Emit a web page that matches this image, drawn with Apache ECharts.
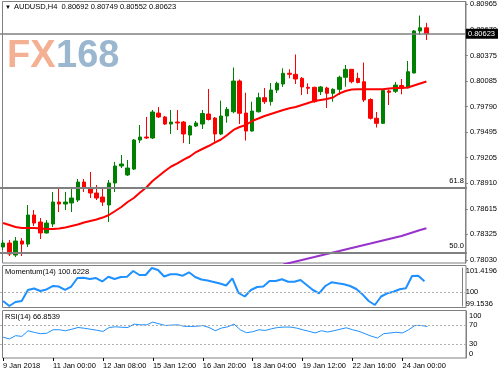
<!DOCTYPE html>
<html><head><meta charset="utf-8">
<script src="https://cdn.jsdelivr.net/npm/echarts@6/dist/echarts.min.js"></script>
<style>html,body{margin:0;padding:0;background:#fff}#c{width:500px;height:375px}</style>
</head><body><div id="c"></div>
<script>
const symbolName = 'AUDUSD,H4';
const firstLabel = '9 Jan 2018';
const categories = [
'9 Jan 16:00','9 Jan 20:00','10 Jan 00:00','10 Jan 04:00','10 Jan 08:00','10 Jan 12:00','10 Jan 16:00','10 Jan 20:00',
'11 Jan 00:00','11 Jan 04:00','11 Jan 08:00','11 Jan 12:00','11 Jan 16:00','11 Jan 20:00','12 Jan 00:00','12 Jan 04:00',
'12 Jan 08:00','12 Jan 12:00','12 Jan 16:00','12 Jan 20:00','14 Jan 20:00','15 Jan 00:00','15 Jan 04:00','15 Jan 08:00',
'15 Jan 12:00','15 Jan 16:00','15 Jan 20:00','16 Jan 00:00','16 Jan 04:00','16 Jan 08:00','16 Jan 12:00','16 Jan 16:00',
'16 Jan 20:00','17 Jan 00:00','17 Jan 04:00','17 Jan 08:00','17 Jan 12:00','17 Jan 16:00','17 Jan 20:00','18 Jan 00:00',
'18 Jan 04:00','18 Jan 08:00','18 Jan 12:00','18 Jan 16:00','18 Jan 20:00','19 Jan 00:00','19 Jan 04:00','19 Jan 08:00',
'19 Jan 12:00','19 Jan 16:00','19 Jan 20:00','21 Jan 20:00','22 Jan 00:00','22 Jan 04:00','22 Jan 08:00','22 Jan 12:00',
'22 Jan 16:00','22 Jan 20:00','23 Jan 00:00','23 Jan 04:00','23 Jan 08:00','23 Jan 12:00','23 Jan 16:00','23 Jan 20:00',
'24 Jan 00:00','24 Jan 04:00','24 Jan 08:00','24 Jan 12:00','24 Jan 16:00'];

const opens = [0.78179,0.78225,0.78087,0.78248,0.78213,0.78546,0.78466,0.78340,0.78443,0.78695,
0.78672,0.78684,0.78718,0.78924,0.78856,0.78798,0.78752,0.78661,0.78913,0.79108,
0.79005,0.79073,0.79406,0.79440,0.79429,0.79715,0.79670,0.79589,0.79612,0.79612,
0.79463,0.79566,0.79589,0.79704,0.79658,0.79475,0.79681,0.79730,0.80082,0.79715,
0.79509,0.79730,0.79891,0.79847,0.79979,0.80048,0.80171,0.80159,0.80113,0.80010,
0.80010,0.79960,0.80002,0.79941,0.79987,0.80125,0.80216,0.80113,0.80074,0.79870,
0.79655,0.79597,0.79968,0.79964,0.80031,0.80005,0.80174,0.80656,0.80692];
const highs = [0.78259,0.78259,0.78294,0.78282,0.78661,0.78603,0.78512,0.78489,0.78810,0.78856,
0.78810,0.78844,0.78959,0.78959,0.79039,0.78890,0.78867,0.78947,0.79154,0.79234,
0.79177,0.79417,0.79578,0.79670,0.79750,0.79784,0.79681,0.79750,0.79750,0.79624,
0.79578,0.79624,0.79750,0.79991,0.79670,0.79857,0.79784,0.80237,0.80100,0.79948,
0.79845,0.79948,0.80002,0.80059,0.80074,0.80228,0.80216,0.80386,0.80128,0.80056,
0.80017,0.80025,0.80017,0.79999,0.80143,0.80266,0.80220,0.80178,0.80294,0.79884,
0.79727,0.79987,0.79985,0.80071,0.80105,0.80312,0.80667,0.80833,0.80749];
const lows = [0.78145,0.78076,0.78064,0.78076,0.78179,0.78420,0.78271,0.78334,0.78408,0.78580,
0.78603,0.78580,0.78695,0.78810,0.78741,0.78718,0.78649,0.78466,0.78810,0.79085,
0.78993,0.79062,0.79372,0.79417,0.79417,0.79658,0.79578,0.79475,0.79520,0.79372,
0.79360,0.79555,0.79532,0.79630,0.79386,0.79463,0.79604,0.79712,0.79589,0.79400,
0.79501,0.79721,0.79819,0.79801,0.79945,0.80014,0.80113,0.80048,0.79922,0.79933,
0.79834,0.79922,0.79773,0.79845,0.79922,0.80017,0.80056,0.80056,0.79842,0.79641,
0.79549,0.79589,0.79807,0.79945,0.79930,0.79999,0.80171,0.80610,0.80552];
const closes = [0.78225,0.78099,0.78248,0.78213,0.78546,0.78454,0.78340,0.78454,0.78695,0.78672,
0.78695,0.78741,0.78924,0.78856,0.78798,0.78741,0.78695,0.78913,0.79108,0.79131,
0.79085,0.79406,0.79440,0.79429,0.79727,0.79670,0.79589,0.79612,0.79601,0.79475,
0.79566,0.79601,0.79710,0.79641,0.79475,0.79681,0.79758,0.80082,0.79712,0.79509,
0.79738,0.79891,0.79845,0.79979,0.80056,0.80171,0.80159,0.80105,0.80014,0.79999,
0.79845,0.80014,0.79941,0.79987,0.80125,0.80216,0.80074,0.80065,0.79865,0.79655,
0.79597,0.79973,0.79953,0.80036,0.79996,0.80189,0.80656,0.80692,0.80623];

const maRed = [0.78454,0.78431,0.78408,0.78397,0.78397,0.78397,0.78391,0.78385,0.78385,0.78391,
0.78403,0.78420,0.78437,0.78460,0.78477,0.78494,0.78517,0.78546,0.78592,0.78638,
0.78695,0.78741,0.78804,0.78861,0.78936,0.78993,0.79051,0.79102,0.79137,0.79182,
0.79217,0.79268,0.79303,0.79337,0.79377,0.79412,0.79463,0.79521,0.79555,0.79578,
0.79624,0.79652,0.79681,0.79704,0.79727,0.79750,0.79769,0.79784,0.79807,0.79830,
0.79853,0.79865,0.79876,0.79893,0.79939,0.79968,0.79985,0.79987,0.79987,0.79987,
0.79987,0.79987,0.79996,0.80002,0.80002,0.80008,0.80031,0.80054,0.80077];

const maPurpleStart = 45;
const maPurple = [0.77978,0.77996,0.78013,0.78030,0.78047,0.78064,0.78082,0.78099,0.78116,0.78133,
0.78151,0.78168,0.78185,0.78202,0.78219,0.78237,0.78254,0.78271,0.78288,0.78305,
0.78328,0.78351,0.78374,0.78394];

const momentum = [99.452,99.1536,99.392,99.452,100.108,100.197,100.048,100.138,100.346,100.316,
100.108,100.316,100.823,100.841,100.764,100.823,100.615,100.901,100.764,100.883,
100.901,101.241,101.002,101.002,101.4196,101.300,100.913,101.044,101.044,100.960,
101.163,100.883,100.734,100.674,100.585,100.495,100.376,100.805,99.929,99.720,
100.108,100.287,100.316,100.645,100.645,100.746,100.603,100.603,100.704,100.406,
100.108,99.911,100.346,100.567,100.507,100.448,100.346,100.167,99.851,99.452,
99.213,99.720,99.911,100.006,100.150,100.209,100.942,100.960,100.6228];

const rsi = [44.3,40.5,47.5,46.0,58.0,54.4,51.7,52.7,60.1,60.1,
58.0,61.2,64.9,63.3,61.2,59.1,56.5,64.9,66.4,65.4,
64.9,72.1,70.6,70.6,76.3,72.7,69.2,70.0,70.6,67.5,
67.1,67.5,69.0,64.9,58.0,63.7,66.4,72.1,60.1,53.8,
55.9,60.1,58.6,62.2,64.9,65.8,65.8,63.7,60.1,56.9,
53.2,58.0,55.3,58.0,61.2,64.3,60.1,56.9,51.7,46.4,
42.6,51.7,53.2,54.8,53.2,60.1,69.2,69.2,66.8539];

const priceTicks = [0.80965,0.80670,0.80375,0.80085,0.79790,0.79495,0.79205,0.78910,0.78615,0.78325,0.78030];
const priceMin = 0.77996, priceMax = 0.80988;
const momTicks = [99.1536, 100, 101.4196];
const momLevel = 100;
const rsiTicks = [0, 30, 70, 100];
const rsiLevels = [70, 30];
const fibLevels = [{name:'61.8', value:0.78860},{name:'50.0', value:0.78115}];
const labelStep = 8;
const padSlots = 6;

const FONT = '"Liberation Sans", Arial, sans-serif';
const N = categories.length;
const xCats = categories.concat(Array.from({length: padSlots}, (_, i) => '_pad' + i));
const showIdx = (idx) => idx % labelStep === 0 && idx < N;
const candleData = opens.map((o, i) => [o, closes[i], lows[i], highs[i]]);
const purpleData = categories.map((_, i) => i >= maPurpleStart ? maPurple[i - maPurpleStart] : null);
const lastClose = closes[N - 1];
const header = symbolName + '  ' + [opens[N-1], highs[N-1], lows[N-1], closes[N-1]].map(v => v.toFixed(5)).join(' ');

const grids = [
  {left: 0, top: 2, width: 468, height: 261},
  {left: 0, top: 268, width: 468, height: 38},
  {left: 0, top: 311, width: 468, height: 47}
];
const frameColor = '#808080';

const chart = echarts.init(document.getElementById('c'), null, {renderer: 'canvas'});
chart.setOption({
  animation: false,
  backgroundColor: '#fff',
  grid: grids,
  xAxis: [0, 1, 2].map(i => ({
    type: 'category', gridIndex: i, data: xCats, boundaryGap: true,
    axisLine: {show: false},
    axisTick: {show: i === 2, alignWithLabel: true, length: 3, interval: showIdx, lineStyle: {color: '#000'}},
    axisLabel: {show: i === 2, interval: showIdx, align: 'left', margin: 4, fontSize: 7.5, fontFamily: FONT, color: '#000',
      formatter: (v, idx) => idx === 0 ? firstLabel : v},
    splitLine: {show: false}
  })),
  yAxis: [
    {gridIndex: 0, type: 'value', position: 'right', offset: -2, min: priceMin, max: priceMax,
      axisLine: {show: true, lineStyle: {color: frameColor, width: 1}},
      axisTick: {show: true, length: 3, customValues: priceTicks, lineStyle: {color: frameColor}},
      axisLabel: {customValues: priceTicks, formatter: v => v.toFixed(5), fontSize: 7.5, fontFamily: FONT, color: '#000', margin: 5},
      splitLine: {show: false}},
    {gridIndex: 1, type: 'value', position: 'right', offset: -2, min: momTicks[0], max: momTicks[2],
      axisLine: {show: true, lineStyle: {color: frameColor, width: 1}},
      axisTick: {show: false},
      axisLabel: {customValues: momTicks, fontSize: 7.5, fontFamily: FONT, color: '#000', margin: 3,
        formatter: v => v === momTicks[2] ? '{t|' + v + '}' : (v === momTicks[0] ? '{b|' + v + '}' : String(v)),
        rich: {t: {padding: [6, 0, 0, 0], fontSize: 7.5, fontFamily: FONT}, b: {padding: [0, 0, 5, 0], fontSize: 7.5, fontFamily: FONT}}},
      splitLine: {show: false}},
    {gridIndex: 2, type: 'value', position: 'right', offset: -2, min: 0, max: 100,
      axisLine: {show: true, lineStyle: {color: frameColor, width: 1}},
      axisTick: {show: false},
      axisLabel: {customValues: rsiTicks, fontSize: 7.5, fontFamily: FONT, color: '#000', margin: 3,
        formatter: v => v === 100 ? '{t|100}' : (v === 0 ? '{b|0}' : String(v)),
        rich: {t: {padding: [9, 0, 0, 0], fontSize: 7.5, fontFamily: FONT}, b: {padding: [0, 0, 9, 0], fontSize: 7.5, fontFamily: FONT}}},
      splitLine: {show: false}}
  ],
  series: [
    {type: 'candlestick', xAxisIndex: 0, yAxisIndex: 0, data: candleData, barWidth: 4,
      itemStyle: {color: '#008000', color0: '#ff0000', borderColor: '#008000', borderColor0: '#ff0000', borderWidth: 1},
      markLine: {silent: true, symbol: 'none', animation: false, precision: 5,
        data: [
          {yAxis: lastClose, lineStyle: {color: '#808080', width: 1.5, type: 'solid'},
            label: {show: true, position: 'end', distance: -1, formatter: lastClose.toFixed(5), backgroundColor: '#000', color: '#fff',
              padding: [1, 3, 1, 2], fontSize: 7.5, fontFamily: FONT}}
        ].concat(fibLevels.map(f => ({yAxis: f.value, lineStyle: {color: '#808080', width: 2, type: 'solid'},
          label: {show: true, position: 'insideEndTop', distance: 3, formatter: f.name, color: '#000', fontSize: 7.5, fontFamily: FONT}})))
      }},
    {type: 'line', xAxisIndex: 0, yAxisIndex: 0, data: maRed, symbol: 'none', lineStyle: {color: '#ff0000', width: 2}, z: 3},
    {type: 'line', xAxisIndex: 0, yAxisIndex: 0, data: purpleData, symbol: 'none', lineStyle: {color: '#9932cc', width: 2}, z: 3},
    {type: 'line', xAxisIndex: 1, yAxisIndex: 1, data: momentum, symbol: 'none', lineStyle: {color: '#1e90ff', width: 2},
      markLine: {silent: true, symbol: 'none', precision: 4, label: {show: false}, lineStyle: {color: '#b0b0b0', type: [2, 2], width: 1},
        data: [{yAxis: momLevel}]}},
    {type: 'line', xAxisIndex: 2, yAxisIndex: 2, data: rsi, symbol: 'none', lineStyle: {color: '#1e90ff', width: 1},
      markLine: {silent: true, symbol: 'none', label: {show: false}, lineStyle: {color: '#b0b0b0', type: [2, 2], width: 1},
        data: rsiLevels.map(v => ({yAxis: v}))}}
  ],
  graphic: [
    {type: 'rect', shape: {x: 2.5, y: 1.5, width: 463.5, height: 261.5}, style: {fill: 'none', stroke: frameColor, lineWidth: 1}, silent: true, z: 0},
    {type: 'rect', shape: {x: 2.5, y: 265.5, width: 463.5, height: 42}, style: {fill: 'none', stroke: frameColor, lineWidth: 1}, silent: true, z: 0},
    {type: 'rect', shape: {x: 2.5, y: 310.5, width: 463.5, height: 47.5}, style: {fill: 'none', stroke: frameColor, lineWidth: 1}, silent: true, z: 0},
    {type: 'text', x: 5, y: 4, style: {text: '\u25BC', font: '6px ' + FONT, fill: '#000'}, silent: true},
    {type: 'text', x: 14, y: 3, style: {text: header, font: '7.5px ' + FONT, fill: '#000'}, silent: true},
    {type: 'text', x: 7, y: 38, style: {text: 'FX', font: 'bold 38px ' + FONT, fill: 'rgba(240,150,110,0.75)'}, silent: true, z: 0},
    {type: 'text', x: 56, y: 38, style: {text: '168', font: 'bold 38px ' + FONT, fill: 'rgba(130,165,195,0.8)'}, silent: true, z: 0},
    {type: 'text', x: 5, y: 268, style: {text: 'Momentum(14) ' + momentum[N - 1].toFixed(4), font: '7.5px ' + FONT, fill: '#000'}, silent: true},
    {type: 'text', x: 5, y: 313, style: {text: 'RSI(14) ' + rsi[N - 1].toFixed(4), font: '7.5px ' + FONT, fill: '#000'}, silent: true}
  ]
});
</script></body></html>
